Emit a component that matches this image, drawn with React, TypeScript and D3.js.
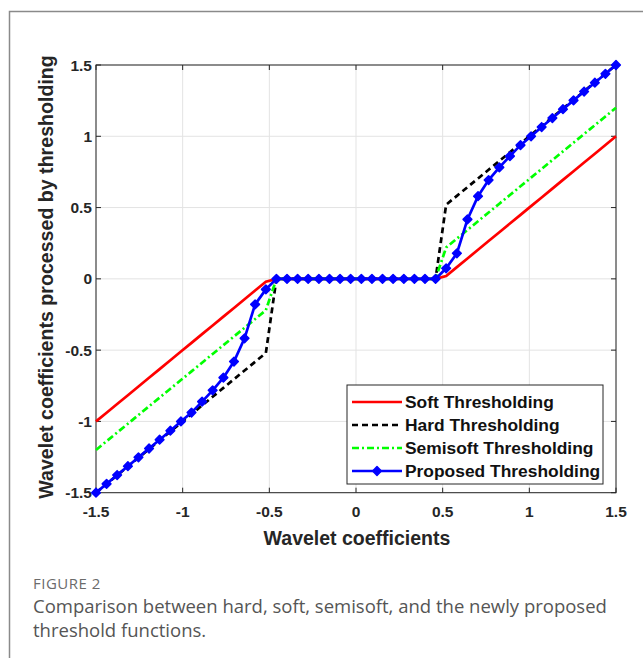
import React from "react";
import * as d3 from "d3";

const xValues = [
  -1.5, -1.439, -1.378, -1.316, -1.255, -1.194, -1.133, -1.071, -1.01, -0.949,
  -0.888, -0.827, -0.765, -0.704, -0.643, -0.582, -0.52, -0.459, -0.398, -0.337,
  -0.276, -0.214, -0.153, -0.092, -0.031, 0.031, 0.092, 0.153, 0.214, 0.276,
  0.337, 0.398, 0.459, 0.52, 0.582, 0.643, 0.704, 0.765, 0.827, 0.888,
  0.949, 1.01, 1.071, 1.133, 1.194, 1.255, 1.316, 1.378, 1.439, 1.5,
];

const softValues = [
  -1.0, -0.939, -0.878, -0.816, -0.755, -0.694, -0.633, -0.571, -0.51, -0.449,
  -0.388, -0.327, -0.265, -0.204, -0.143, -0.082, -0.02, 0, 0, 0,
  0, 0, 0, 0, 0, 0, 0, 0, 0, 0,
  0, 0, 0, 0.02, 0.082, 0.143, 0.204, 0.265, 0.327, 0.388,
  0.449, 0.51, 0.571, 0.633, 0.694, 0.755, 0.816, 0.878, 0.939, 1.0,
];

const hardValues = [
  -1.5, -1.439, -1.378, -1.316, -1.255, -1.194, -1.133, -1.071, -1.01, -0.949,
  -0.888, -0.827, -0.765, -0.704, -0.643, -0.582, -0.52, 0, 0, 0,
  0, 0, 0, 0, 0, 0, 0, 0, 0, 0,
  0, 0, 0, 0.52, 0.582, 0.643, 0.704, 0.765, 0.827, 0.888,
  0.949, 1.01, 1.071, 1.133, 1.194, 1.255, 1.316, 1.378, 1.439, 1.5,
];

const semisoftValues = [
  -1.2, -1.139, -1.078, -1.016, -0.955, -0.894, -0.833, -0.771, -0.71, -0.649,
  -0.588, -0.527, -0.465, -0.404, -0.343, -0.282, -0.22, 0, 0, 0,
  0, 0, 0, 0, 0, 0, 0, 0, 0, 0,
  0, 0, 0, 0.22, 0.282, 0.343, 0.404, 0.465, 0.527, 0.588,
  0.649, 0.71, 0.771, 0.833, 0.894, 0.955, 1.016, 1.078, 1.139, 1.2,
];

const proposedValues = [
  -1.5, -1.438, -1.376, -1.314, -1.252, -1.19, -1.128, -1.065, -1.0, -0.938,
  -0.861, -0.782, -0.693, -0.58, -0.417, -0.179, -0.074, 0, 0, 0,
  0, 0, 0, 0, 0, 0, 0, 0, 0, 0,
  0, 0, 0, 0.074, 0.179, 0.417, 0.58, 0.693, 0.782, 0.861,
  0.938, 1.0, 1.065, 1.128, 1.19, 1.252, 1.314, 1.376, 1.438, 1.5,
];

const tickValues = [-1.5, -1, -0.5, 0, 0.5, 1, 1.5];
const tickLabels = ["-1.5", "-1", "-0.5", "0", "0.5", "1", "1.5"];

const seriesNames = [
  "Soft Thresholding",
  "Hard Thresholding",
  "Semisoft Thresholding",
  "Proposed Thresholding",
];

const W = 643;
const H = 658;
const L = 96, R = 616, T = 65, B = 492.7;

export default function App() {
  const x = d3.scaleLinear().domain([-1.5, 1.5]).range([L, R]);
  const y = d3.scaleLinear().domain([-1.5, 1.5]).range([B, T]);
  const line = (vals: number[]) =>
    d3.line<number>().x((_, i) => x(xValues[i])).y((v) => y(v))(vals) || "";

  const styles = [
    { vals: softValues, color: "#ff0000", dash: "none" },
    { vals: hardValues, color: "#000000", dash: "6 4" },
    { vals: semisoftValues, color: "#00ff00", dash: "7 3 2 3" },
    { vals: proposedValues, color: "#0000ff", dash: "none" },
  ];
  const marker = d3.symbol().type(d3.symbolSquare).size(38)() || "";
  const axisFont = "'Liberation Sans', Arial, sans-serif";

  const legX = 347, legY = 385, legW = 256, legH = 99, rowH = 23;

  return (
    <svg width={W} height={H} style={{ position: "absolute", left: 0, top: 0, background: "#fff" }}>
      {/* outer frame */}
      <path d={`M9.5,${H} V11.5 H${W}`} fill="none" stroke="#8a8a8a" strokeWidth={1.5} />
      {/* grid */}
      {tickValues.map((t, i) => (
        <g key={"g" + i}>
          <line x1={x(t)} x2={x(t)} y1={T} y2={B} stroke="#e3e3e3" strokeWidth={1} />
          <line x1={L} x2={R} y1={y(t)} y2={y(t)} stroke="#e3e3e3" strokeWidth={1} />
        </g>
      ))}
      {/* axes box */}
      <rect x={L} y={T} width={R - L} height={B - T} fill="none" stroke="#262626" strokeWidth={1} />
      {tickValues.map((t, i) => (
        <g key={"t" + i} stroke="#262626" strokeWidth={1}>
          <line x1={x(t)} x2={x(t)} y1={B} y2={B - 5} />
          <line x1={x(t)} x2={x(t)} y1={T} y2={T + 5} />
          <line x1={L} x2={L + 5} y1={y(t)} y2={y(t)} />
          <line x1={R} x2={R - 5} y1={y(t)} y2={y(t)} />
        </g>
      ))}
      {/* series */}
      {styles.map((s, i) => (
        <path key={"s" + i} d={line(s.vals)} fill="none" stroke={s.color}
          strokeWidth={2.7} strokeDasharray={s.dash} />
      ))}
      {proposedValues.map((v, i) => (
        <path key={"m" + i} d={marker} transform={`translate(${x(xValues[i])},${y(v)}) rotate(45)`}
          fill="#0000ff" stroke="#0000ff" strokeWidth={1.5} strokeLinejoin="round" />
      ))}
      {/* tick labels */}
      {tickValues.map((t, i) => (
        <text key={"xl" + i} x={x(t)} y={517} textAnchor="middle" fontFamily={axisFont}
          fontWeight="bold" fontSize={15.5} fill="#262626">{tickLabels[i]}</text>
      ))}
      {tickValues.map((t, i) => (
        <text key={"yl" + i} x={92} y={y(t) + 5.5} textAnchor="end" fontFamily={axisFont}
          fontWeight="bold" fontSize={15.5} fill="#262626">{tickLabels[i]}</text>
      ))}
      {/* axis titles */}
      <text x={357} y={545} textAnchor="middle" fontFamily={axisFont} fontWeight="bold"
        fontSize={19.5} fill="#262626">Wavelet coefficients</text>
      <text transform="translate(53,277) rotate(-90)" textAnchor="middle" fontFamily={axisFont}
        fontWeight="bold" fontSize={19.6} fill="#262626">Wavelet coefficients processed by thresholding</text>
      {/* legend */}
      <rect x={legX} y={legY} width={legW} height={legH} fill="#fff" stroke="#262626" strokeWidth={1} />
      {styles.map((s, i) => {
        const cy = legY + 17 + i * rowH;
        return (
          <g key={"lg" + i}>
            <line x1={legX + 5} x2={legX + 55} y1={cy} y2={cy} stroke={s.color} strokeWidth={2.7}
              strokeDasharray={s.dash} />
            {i === 3 && (
              <path d={marker} transform={`translate(${legX + 30},${cy}) rotate(45)`} fill="#0000ff"
                stroke="#0000ff" strokeWidth={1.5} strokeLinejoin="round" />
            )}
            <text x={legX + 58} y={cy + 6} fontFamily={axisFont} fontWeight="bold" fontSize={17.4}
              fill="#111">{seriesNames[i]}</text>
          </g>
        );
      })}
      {/* caption */}
      <text x={33} y={589} fontFamily="'Open Sans', sans-serif" fontSize={15} letterSpacing={0.5} fill="#6b6b6b">FIGURE 2</text>
      <text x={33} y={613} fontFamily="'Open Sans', sans-serif" fontSize={18.5} fill="#555">
        Comparison between hard, soft, semisoft, and the newly proposed
      </text>
      <text x={33} y={637} fontFamily="'Open Sans', sans-serif" fontSize={18.5} fill="#555">
        threshold functions.
      </text>
    </svg>
  );
}
